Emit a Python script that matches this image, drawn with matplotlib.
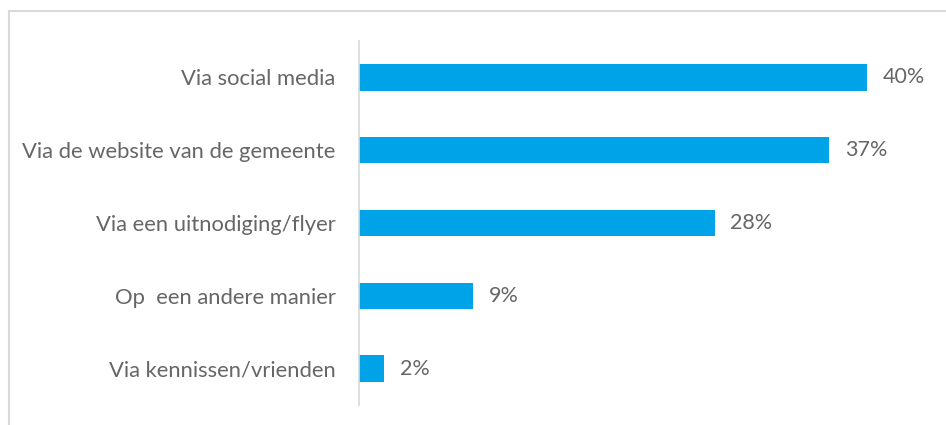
import matplotlib
matplotlib.use('agg')
import matplotlib.pyplot as plt
from matplotlib.patches import Rectangle

# answer categories, top to bottom
labels = ['Via social media', 'Via de website van de gemeente', 'Via een uitnodiging/flyer',
          'Op  een andere manier', 'Via kennissen/vrienden']
values = [40, 37, 28, 9, 2]

plt.rcParams['font.family'] = ['Lato', 'DejaVu Sans']
textcol = '#666666'
barcol = '#00A2E8'

fig = plt.figure(figsize=(9.46, 4.25), dpi=100)
ax = fig.add_axes([359/946, 1-405/425, 0.95-359/946, (405-41)/425])

pos = list(range(len(labels)))
ax.barh(pos, values, height=0.36, color=barcol)
for p, v in zip(pos, values):
    ax.text(v + 1.25, p, str(v) + '%', va='center', ha='left', fontsize=15.5,
            color=textcol)

ax.set_yticks(pos)
ax.set_yticklabels(labels, fontsize=15.8, color=textcol)
ax.tick_params(axis='y', length=0, pad=17)
ax.set_ylim(4.5, -0.5)
ax.set_xlim(0, (0.95*946-359)/12.7)
ax.set_xticks([])
for s in ['top', 'right', 'bottom']:
    ax.spines[s].set_visible(False)
ax.spines['left'].set_color('#d9d9d9')
ax.spines['left'].set_linewidth(1.2)

# outer frame (cropped on the right and bottom)
fig.add_artist(Rectangle((9/946, -0.1), 1.2, 1.1 - 11/425, transform=fig.transFigure,
                         fill=False, edgecolor='#d9d9d9', linewidth=1.5))

fig.savefig('out.png', dpi=100)
